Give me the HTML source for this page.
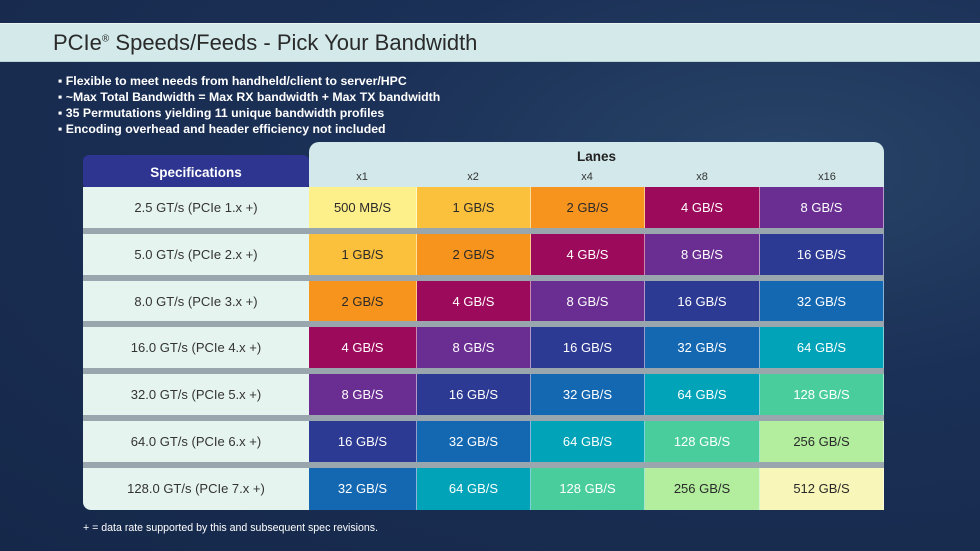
<!DOCTYPE html>
<html><head><meta charset="utf-8"><style>
*{margin:0;padding:0;box-sizing:border-box}
body{width:980px;height:551px;overflow:hidden;position:relative;font-family:"Liberation Sans",sans-serif;
background:radial-gradient(ellipse at 80% 30%,#284468 0%,#1b3056 40%,#15284a 100%);}
.abs{position:absolute}
.title{left:0;top:23px;width:980px;height:39px;background:#d3e9ea;border-top:1px solid #e8f4f4;border-bottom:1px solid #b9d3d6}
.title span{position:absolute;left:53px;top:6px;font-size:22px;color:#2a2a2a}
.bul{left:58px;color:#fff;font-weight:bold;font-size:12.3px;line-height:16px}
.spec{left:83px;top:155px;width:226px;height:34px;background:#2d3590;border-radius:6px;color:#fff;font-weight:bold;font-size:13.5px;text-align:center;line-height:36px}
.lanes{left:309px;top:142px;width:575px;height:46px;background:#d3e8ea;border-radius:10px 10px 0 0}
.lab{font-size:11px;color:#333;top:171px;text-align:center;width:114px}
.gap{left:83px;width:801px;height:6px;background:#9aa6ad}
.sc{left:83px;width:226px;background:#e6f4ef;color:#333;font-size:13px;text-align:center}
.c{font-size:13px;text-align:center;border-right:1px solid rgba(255,255,255,0.5)}
.w{color:#fff}.d{color:#2a2a2a}
.foot{left:83px;top:522px;color:#fff;font-size:10.6px}
</style></head><body>
<div class="abs title"><span>PCIe<sup style="font-size:10px">®</sup> Speeds/Feeds - Pick Your Bandwidth</span></div>
<div class="abs bul" style="top:73px">▪ Flexible to meet needs from handheld/client to server/HPC</div>
<div class="abs bul" style="top:89px">▪ ~Max Total Bandwidth = Max RX bandwidth + Max TX bandwidth</div>
<div class="abs bul" style="top:105px">▪ 35 Permutations yielding 11 unique bandwidth profiles</div>
<div class="abs bul" style="top:121px">▪ Encoding overhead and header efficiency not included</div>
<div class="abs lanes"></div>
<div class="abs" style="left:309px;top:149px;width:575px;text-align:center;font-weight:bold;font-size:13.5px;color:#222">Lanes</div>
<div class="abs lab" style="left:305px">x1</div>
<div class="abs lab" style="left:416px">x2</div>
<div class="abs lab" style="left:530px">x4</div>
<div class="abs lab" style="left:645px">x8</div>
<div class="abs lab" style="left:770px">x16</div>
<div class="abs spec">Specifications</div>
<div id="t"></div>
<script>
var cols=[309,417,531,645,760,884];
var tops=[187,234,281,327,374,421,468];
var specs=["2.5 GT/s (PCIe 1.x +)","5.0 GT/s (PCIe 2.x +)","8.0 GT/s (PCIe 3.x +)","16.0 GT/s (PCIe 4.x +)","32.0 GT/s (PCIe 5.x +)","64.0 GT/s (PCIe 6.x +)","128.0 GT/s (PCIe 7.x +)"];
var vals=["500 MB/S","1 GB/S","2 GB/S","4 GB/S","8 GB/S","16 GB/S","32 GB/S","64 GB/S","128 GB/S","256 GB/S","512 GB/S"];
var bg=["#fdf08a","#fbc03c","#f7941e","#9c0a5c","#6a2e92","#2d3a93","#1468b2","#00a3b8","#4acd9d","#b2ee9e","#f8f6b8"];
var dark=[1,1,1,0,0,0,0,0,0,1,1];
var h="";
for(var r=0;r<7;r++){
 var t=tops[r],ht=(r==6?42:41);
 if(r>0)h+='<div class="abs gap" style="top:'+(t-6)+'px"></div>';
 h+='<div class="abs sc" style="top:'+t+'px;height:'+ht+'px;line-height:'+ht+'px'+(r==6?';border-radius:0 0 0 8px':'')+'">'+specs[r]+'</div>';
 for(var c=0;c<5;c++){var k=r+c;
  h+='<div class="abs c '+(dark[k]?'d':'w')+'" style="left:'+cols[c]+'px;width:'+(cols[c+1]-cols[c])+'px;top:'+t+'px;height:'+ht+'px;line-height:'+ht+'px;background:'+bg[k]+'">'+vals[k]+'</div>';}
}
document.getElementById("t").innerHTML=h;
</script>
<div class="abs foot">+ = data rate supported by this and subsequent spec revisions.</div>
</body></html>
